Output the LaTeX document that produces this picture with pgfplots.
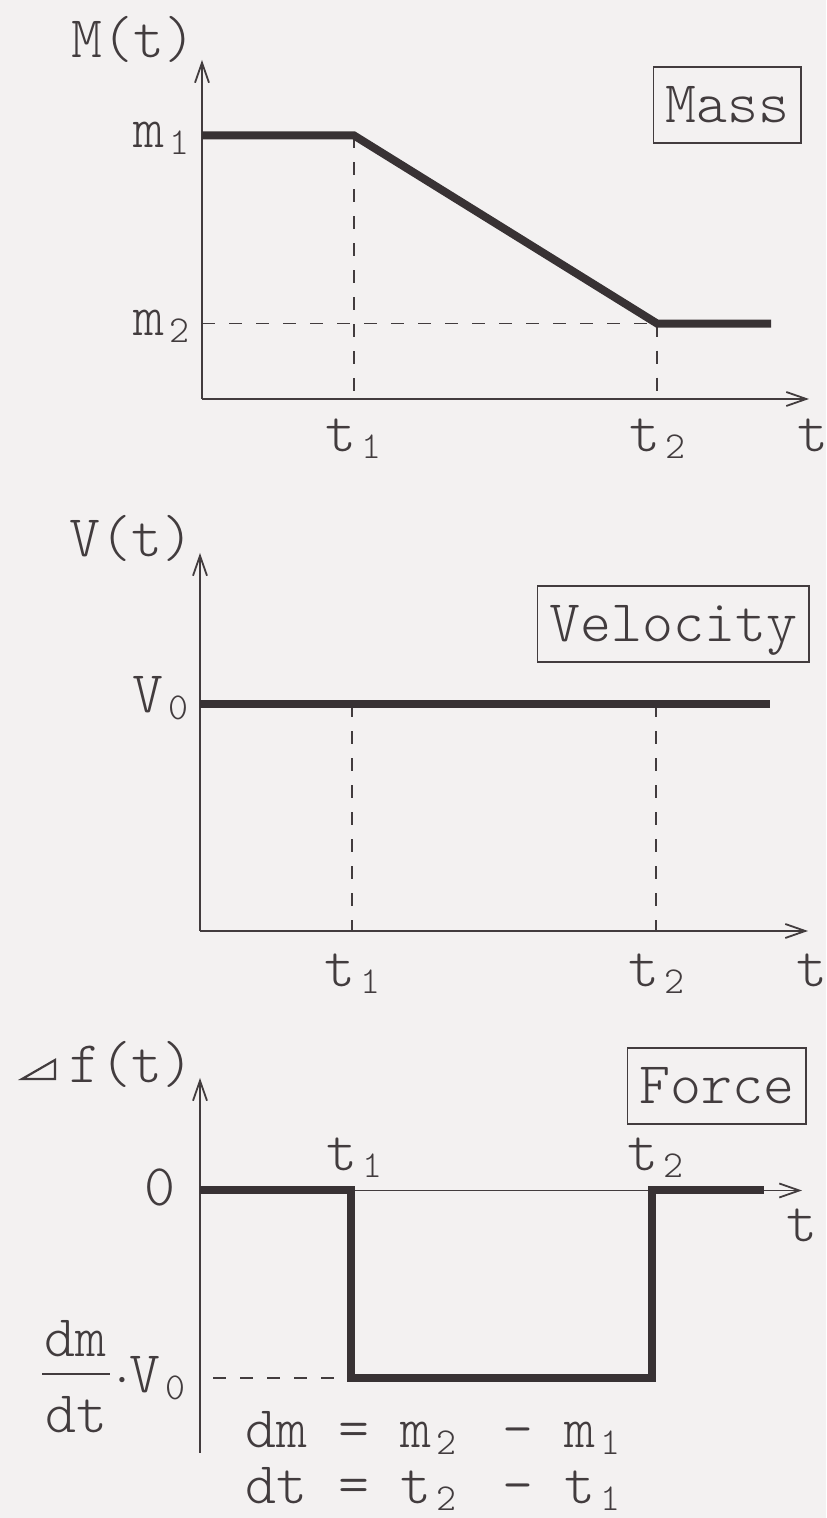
\documentclass[border=0pt]{standalone}
\usepackage{pgfplots}
\pgfplotsset{compat=1.18}
\usepackage{fontspec}
\setmonofont{lmmonolt10-regular.otf}
\usetikzlibrary{arrows.meta}

\definecolor{paper}{RGB}{243,241,241}
\definecolor{ink}{RGB}{66,60,62}
\definecolor{heavyink}{RGB}{56,50,52}

% lowered, smaller index set after a letter
\newcommand\sbs[1]{\kern2.5pt\raisebox{-3.5pt}{\fontsize{19}{19}\selectfont #1}}

\tikzset{axisarrow/.style={-{Straight Barb[length=10pt,width=7pt,line width=0.9pt]}}}

\pgfplotsset{
  panel/.style={
    scale only axis, anchor=south west, clip=false,
    xmin=0, xmax=4, xtick=\empty, ytick=\empty,
    axis line style={draw=ink, line width=0.9pt},
    every outer x axis line/.append style={axisarrow},
    every outer y axis line/.append style={axisarrow},
    every inner x axis line/.append style={axisarrow},
    every inner y axis line/.append style={axisarrow},
  },
  thickline/.style={draw=heavyink, line width=4pt, line join=miter, no markers},
  dashguide/.style={draw=ink, line width=0.8pt, dash pattern=on 6.5pt off 7pt, no markers},
}

\begin{document}
\begin{tikzpicture}[every node/.style={font=\fontsize{29.5}{34}\selectfont\ttfamily, text=ink, inner sep=0pt},
  tagbox/.style={draw=ink, line width=0.8pt, inner xsep=6pt, inner ysep=10pt,
    text height=18pt, text depth=0pt}]
\fill[paper] (0,0) rectangle (413pt,759pt);
\useasboundingbox (0,0) rectangle (413pt,759pt);

% ---------- mass ----------
\begin{axis}[axis lines=left, panel, at={(101pt,559.5pt)},
  width=303.5pt, height=169.5pt, ymin=0, ymax=4.5]
\addplot[dashguide] coordinates {(1,3.5) (1,0)};
\addplot[dashguide] coordinates {(3,1) (3,0)};
\addplot[dashguide] coordinates {(0,1) (3,1)};
\addplot[thickline] coordinates {(0,3.5) (1,3.5) (3,1) (3.75,1)};
\node[anchor=base east, xshift=-3pt, yshift=1pt] at (axis cs:0,4.5) {M(t)};
\node[anchor=base east, xshift=-6pt, yshift=-6pt] at (axis cs:0,3.5) {m\sbs{1}};
\node[anchor=base east, xshift=-6pt, yshift=-6pt] at (axis cs:0,1) {m\sbs{2}};
\node[anchor=base, yshift=-26.5pt] at (axis cs:1,0) {t\sbs{1}};
\node[anchor=base, yshift=-26.5pt] at (axis cs:3,0) {t\sbs{2}};
\node[anchor=base, xshift=2pt, yshift=-26.5pt] at (axis cs:4,0) {t};
\end{axis}
\node[tagbox, anchor=north east] at (401pt,726pt) {Mass};

% ---------- velocity ----------
\begin{axis}[axis lines=left, panel, at={(100pt,293.5pt)},
  width=304pt, height=189pt, ymin=0, ymax=5]
\addplot[dashguide] coordinates {(1,3) (1,0)};
\addplot[dashguide] coordinates {(3,3) (3,0)};
\addplot[thickline] coordinates {(0,3) (3.75,3)};
\node[anchor=base east, xshift=-3pt, yshift=-2pt] at (axis cs:0,5) {V(t)};
\node[anchor=base east, xshift=-5.5pt, yshift=-4pt] at (axis cs:0,3) {V\sbs{0}};
\node[anchor=base, yshift=-28pt] at (axis cs:1,0) {t\sbs{1}};
\node[anchor=base, yshift=-28pt] at (axis cs:3,0) {t\sbs{2}};
\node[anchor=base, xshift=2pt, yshift=-28pt] at (axis cs:4,0) {t};
\end{axis}
\node[tagbox, anchor=north east] at (405pt,466.5pt) {Velocity};

% ---------- force ----------
\begin{axis}[axis lines=middle, panel, at={(100pt,32.5pt)},
  width=301pt, height=187.5pt, ymin=-3.5, ymax=1.5]
\addplot[dashguide, dash phase=7pt] coordinates {(0,-2.5) (1,-2.5)};
\addplot[thickline] coordinates {(0,0) (1,0) (1,-2.5) (3,-2.5) (3,0) (3.75,0)};
\node[anchor=base east, xshift=-12pt, yshift=-7.5pt] at (axis cs:0,0) {0};
\node[anchor=base, xshift=2pt, yshift=10pt] at (axis cs:1,0) {t\sbs{1}};
\node[anchor=base, xshift=2pt, yshift=10pt] at (axis cs:3,0) {t\sbs{2}};
\node[anchor=base, yshift=-25.5pt] at (axis cs:4,0) {t};
\end{axis}
\node[tagbox, anchor=north east] at (403.5pt,235.5pt) {Force};

% force axis title: right-triangle sign followed by f(t)
\draw[ink, line width=1.1pt, line join=miter] (11pt,219.5pt) -- (27.5pt,219.5pt) -- (27.5pt,229pt) -- cycle;
\node[anchor=base east] at (97pt,217.5pt) {f(t)};

% level of the force step: (dm/dt) . V0
\node[anchor=base] at (37.75pt,80.5pt) {dm};
\draw[ink, line width=1pt] (21pt,72pt) -- (55pt,72pt);
\node[anchor=base] at (38pt,42.5pt) {dt};
\node[anchor=base west] at (57.5pt,62.5pt) {$\cdot$V\sbs{0}};

% ---------- definitions ----------
\node[anchor=base west] at (122.5pt,35pt) {dm = m\sbs{2}\hspace{23pt}- m\sbs{1}};
\node[anchor=base west] at (122.5pt,7pt) {dt = t\sbs{2}\hspace{23pt}- t\sbs{1}};
\end{tikzpicture}
\end{document}
